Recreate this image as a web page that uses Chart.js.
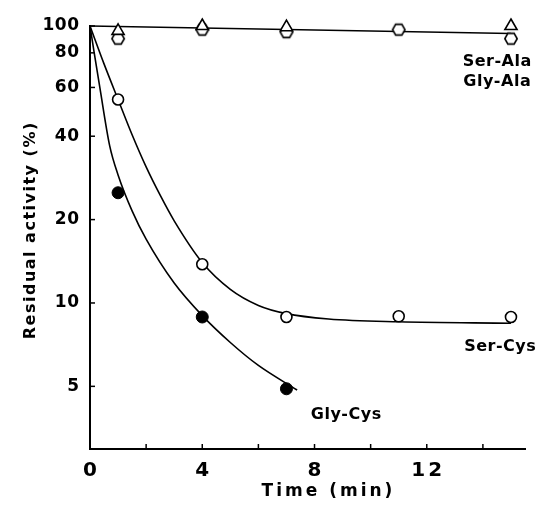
<!DOCTYPE html>
<html><head><meta charset="utf-8">
<script src="https://cdn.jsdelivr.net/npm/chart.js@4.4.1/dist/chart.umd.min.js"></script>
<style>html,body{margin:0;padding:0;background:#fff;} canvas{display:block;}</style>
</head><body>
<canvas id="c" width="539" height="508"></canvas>
<script>
const serAlaTimes  = [1, 4, 7, 15];
const serAlaValues = [96, 100, 99, 100];
const glyAlaTimes  = [1, 4, 7, 11, 15];
const glyAlaValues = [90, 97, 95, 97, 90];
const serCysTimes  = [1, 4, 7, 11, 15];
const serCysValues = [54.3, 13.8, 8.9, 8.95, 8.9];
const glyCysTimes  = [1, 4, 7];
const glyCysValues = [25, 8.9, 4.9];

// ---- fitted curves ----
const alaCurveTimes  = [0, 15];
const alaCurveValues = [100, 94];
const serCysCurveTimes  = [0, 0.5, 1, 1.5, 2, 2.5, 3, 4, 5, 6, 7, 8.5, 11, 15];
const serCysCurveValues = [100, 73, 54.3, 40.5, 31, 24.5, 19.8, 14, 11.2, 9.8, 9.15, 8.75, 8.55, 8.45];
const glyCysCurveTimes  = [0, 0.15, 0.35, 0.7, 1, 1.5, 2, 3, 4, 5, 6, 7.38];
const glyCysCurveValues = [100, 80, 60, 37, 29, 21.5, 17, 11.8, 9.0, 7.2, 5.95, 4.85];

// ---- axes ----
const xTickValues = [0, 2, 4, 6, 8, 10, 12, 14];
const xTickLabels = ['0', '', '4', '', '8', '', '12', ''];
const yTickValues = [5, 10, 20, 40, 60, 80, 100];
const yTickLabels = ['5', '10', '20', '40', '60', '80', '100'];
const xTitle = 'Time (min)';
const yTitle = 'Residual activity (%)';
const seriesNames = ['Ser-Ala', 'Gly-Ala', 'Ser-Cys', 'Gly-Cys'];

const pts = (xs, ys) => xs.map((x, i) => ({x: x, y: ys[i]}));

// hexagon marker
function hexagon(r, lw) {
  const s = Math.ceil(2 * r + lw + 2);
  const c = document.createElement('canvas');
  c.width = s; c.height = s;
  const g = c.getContext('2d');
  g.beginPath();
  for (let k = 0; k < 6; k++) {
    const a = Math.PI / 3 * k;
    const px = s / 2 + r * Math.cos(a), py = s / 2 + r * Math.sin(a);
    if (k === 0) g.moveTo(px, py); else g.lineTo(px, py);
  }
  g.closePath();
  g.fillStyle = '#fff'; g.fill();
  g.lineWidth = lw; g.strokeStyle = '#000'; g.stroke();
  return c;
}
const hexImg = hexagon(6.2, 1.6);

const FONT = '"DejaVu Sans", sans-serif';

function txt(ctx, s, x, y, font, align, spacing, rot) {
  ctx.save();
  ctx.font = font;
  ctx.fillStyle = '#000';
  ctx.textBaseline = 'middle';
  ctx.textAlign = align;
  try { ctx.letterSpacing = spacing + 'px'; } catch (e) {}
  let dx = 0;
  if (align === 'center') dx = spacing / 2;
  if (align === 'right') dx = spacing;
  ctx.translate(x, y);
  if (rot) ctx.rotate(rot);
  ctx.fillText(s, dx, 0);
  ctx.restore();
}

const decor = {
  id: 'decor',
  afterDraw(chart) {
    const ctx = chart.ctx;
    const xs = chart.scales.x, ys = chart.scales.y;
    const a = chart.chartArea;
    ctx.save();
    ctx.strokeStyle = '#000';
    ctx.lineWidth = 1.5;
    // inward ticks
    xTickValues.forEach(v => {
      if (v === 0) return;
      const px = xs.getPixelForValue(v);
      ctx.beginPath(); ctx.moveTo(px, a.bottom); ctx.lineTo(px, a.bottom - 5); ctx.stroke();
    });
    yTickValues.forEach(v => {
      const py = ys.getPixelForValue(v);
      ctx.beginPath(); ctx.moveTo(a.left, py); ctx.lineTo(a.left + 5, py); ctx.stroke();
    });
    ctx.restore();
    // tick labels
    xTickValues.forEach((v, i) => {
      if (!xTickLabels[i]) return;
      txt(ctx, xTickLabels[i], xs.getPixelForValue(v), a.bottom + 22, 'bold 20px ' + FONT, 'center', 3);
    });
    yTickValues.forEach((v, i) => {
      txt(ctx, yTickLabels[i], a.left - 11, ys.getPixelForValue(v), 'bold 17px ' + FONT, 'right', 0.5);
    });
    // axis titles
    txt(ctx, xTitle, 327, 492, 'bold 17px ' + FONT, 'center', 3);
    txt(ctx, yTitle, 31, 231, 'bold 16px ' + FONT, 'center', 1.5, -Math.PI / 2);
    // series labels
    txt(ctx, seriesNames[0], 497, 62, 'bold 16px ' + FONT, 'center', 0.5);
    txt(ctx, seriesNames[1], 497, 82, 'bold 16px ' + FONT, 'center', 0.5);
    txt(ctx, seriesNames[2], 500, 347, 'bold 16px ' + FONT, 'center', 0.5);
    txt(ctx, seriesNames[3], 346, 415, 'bold 16px ' + FONT, 'center', 0.5);
  }
};

const lineDs = (xs, ys, ord) => ({
  data: pts(xs, ys), showLine: true, pointRadius: 0, borderColor: '#000',
  borderWidth: 1.6, cubicInterpolationMode: 'monotone', clip: false, order: ord
});

new Chart(document.getElementById('c'), {
  type: 'scatter',
  data: {
    datasets: [
      lineDs(alaCurveTimes, alaCurveValues, 10),
      lineDs(serCysCurveTimes, serCysCurveValues, 10),
      lineDs(glyCysCurveTimes, glyCysCurveValues, 10),
      { label: seriesNames[1], data: pts(glyAlaTimes, glyAlaValues), pointStyle: hexImg,
        pointRadius: 6, clip: false, order: 3 },
      { label: seriesNames[0], data: pts(serAlaTimes, serAlaValues), pointStyle: 'triangle',
        pointRadius: 7, backgroundColor: '#fff', borderColor: '#000', borderWidth: 1.6, clip: false, order: 2 },
      { label: seriesNames[2], data: pts(serCysTimes, serCysValues), pointStyle: 'circle',
        pointRadius: 5.5, backgroundColor: '#fff', borderColor: '#000', borderWidth: 1.6, clip: false, order: 1 },
      { label: seriesNames[3], data: pts(glyCysTimes, glyCysValues), pointStyle: 'circle',
        pointRadius: 6, backgroundColor: '#000', borderColor: '#000', borderWidth: 1, clip: false, order: 1 }
    ]
  },
  options: {
    responsive: false, animation: false, devicePixelRatio: 1,
    layout: { padding: { left: 0, top: 26, right: 14, bottom: 0 } },
    plugins: { legend: { display: false }, tooltip: { enabled: false } },
    scales: {
      x: {
        type: 'linear', min: 0, max: 15.5,
        grid: { display: false },
        border: { display: true, color: '#000', width: 2 },
        ticks: { display: false, stepSize: 2 },
        afterFit: s => { s.height = 59; }
      },
      y: {
        type: 'logarithmic', min: 2.97, max: 100,
        grid: { display: false },
        border: { display: true, color: '#000', width: 2 },
        ticks: { display: false },
        afterBuildTicks: s => { s.ticks = yTickValues.map(v => ({ value: v })); },
        afterFit: s => { s.width = 90; }
      }
    }
  },
  plugins: [decor]
});
</script>
</body></html>
